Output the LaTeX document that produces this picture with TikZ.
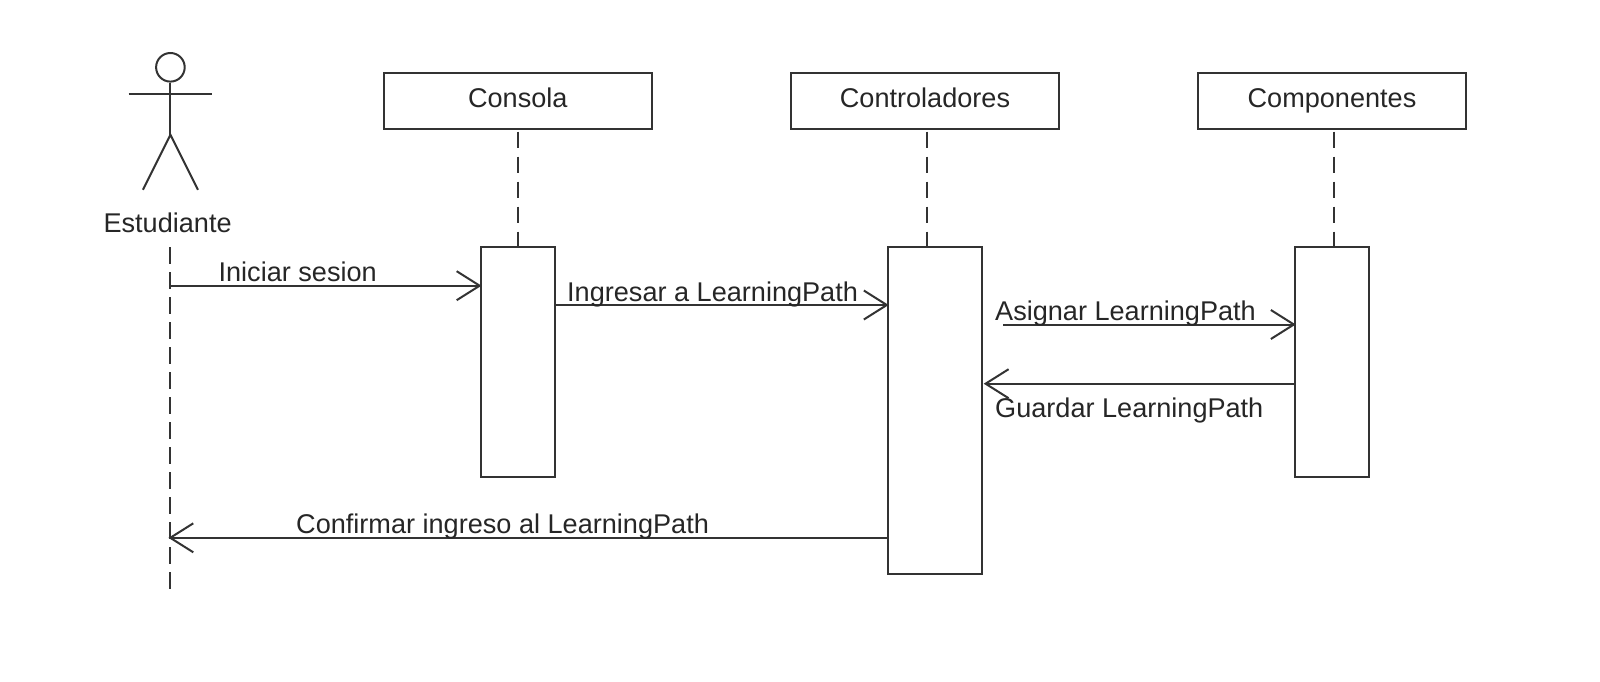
\documentclass[tikz,border=0pt]{standalone}
\usepackage{fontspec}
\setmainfont{Liberation Sans}
\usetikzlibrary{arrows.meta}
\definecolor{trazo}{gray}{0.2}
\tikzset{
    objeto/.style={draw=trazo, line width=2pt, minimum width=268.5pt, minimum height=56pt, inner sep=0pt},
    activacion/.style={draw=trazo, line width=2pt, minimum width=74.5pt, inner sep=0pt},
    etiqueta/.style={anchor=base west, inner sep=0pt, text=black!85},
    vida/.style={draw=trazo, line width=2pt, dash pattern=on 16.5pt off 8.5pt},
    mensaje/.style={draw=trazo, line width=2pt, shorten >=-2pt, -{Straight Barb[length=23pt,width=29pt,line width=2pt]}},
    actor/.style={draw=trazo, line width=2pt}
}
\begin{document}
\begin{tikzpicture}[x=1pt, y=-1pt, font=\fontsize{27.1pt}{30pt}\selectfont]
\useasboundingbox (0,0) rectangle (1600,681);

% actor
\node[circle, actor, minimum size=28.6pt, inner sep=0pt] (cabeza) at (170.4,67.3) {};
\coordinate (cadera) at (170.4,134.7);
\coordinate (brazoI) at (128.6,94);
\coordinate (brazoD) at (212,94);
\coordinate (pieI) at (142.9,189.8);
\coordinate (pieD) at (198,189.8);
\draw[actor] (cabeza.south)--(cadera);
\draw[actor] (brazoI)--(brazoD);
\draw[actor] (pieI)--(cadera)--(pieD);
\node[etiqueta, anchor=base] (estudiante) at (167.6,232.6) {Estudiante};

% objetos
\node[objeto] (consola) at (517.8,100.5) {};
\node[objeto] (controladores) at (925,100.5) {};
\node[objeto] (componentes) at (1332,100.5) {};
\node[etiqueta, anchor=base] (tconsola) at (517.8,107.5) {Consola};
\node[etiqueta, anchor=base] (tcontroladores) at (925,107.5) {Controladores};
\node[etiqueta, anchor=base] (tcomponentes) at (1332,107.5) {Componentes};

% activaciones
\node[activacion, minimum height=229.5pt] (actConsola) at (517.8,361.75) {};
\node[activacion, minimum width=94pt, minimum height=326.5pt] (actControl) at (934.7,410.25) {};
\node[activacion, minimum height=229.5pt] (actComp) at (1332,361.75) {};

% lineas de vida
\coordinate (vidaA) at (170.4,247);
\coordinate (vidaB) at (170.4,590);
\coordinate (vidaC) at (518.4,131.5);
\coordinate (vidaD) at (926.5,131.5);
\coordinate (vidaE) at (1333.7,131.5);
\draw[vida] (vidaA)--(vidaB);
\draw[vida] (vidaC)--(vidaC|-actConsola.north);
\draw[vida] (vidaD)--(vidaD|-actControl.north);
\draw[vida] (vidaE)--(vidaE|-actComp.north);

% mensajes
\coordinate (m1) at (170.4,285.7);
\coordinate (m2) at (555,305);
\coordinate (m3) at (1003,324.5);
\coordinate (m4) at (985.7,383.7);
\coordinate (m5) at (170.4,537.8);
\draw[mensaje] (m1)--(m1-|actConsola.west);
\draw[mensaje] (m2)--(m2-|actControl.west);
\draw[mensaje] (m3)--(m3-|actComp.west);
\draw[mensaje] (m4-|actComp.west)--(m4);
\draw[mensaje] (m5-|actControl.west)--(m5);

\node[etiqueta] (tiniciar) at (218.4,281.6) {Iniciar sesion};
\node[etiqueta] (tingresar) at (567,301) {Ingresar a LearningPath};
\node[etiqueta] (tasignar) at (995,320) {Asignar LearningPath};
\node[etiqueta] (tguardar) at (995,417) {Guardar LearningPath};
\node[etiqueta] (tconfirmar) at (296,533.7) {Confirmar ingreso al LearningPath};

\end{tikzpicture}
\end{document}
